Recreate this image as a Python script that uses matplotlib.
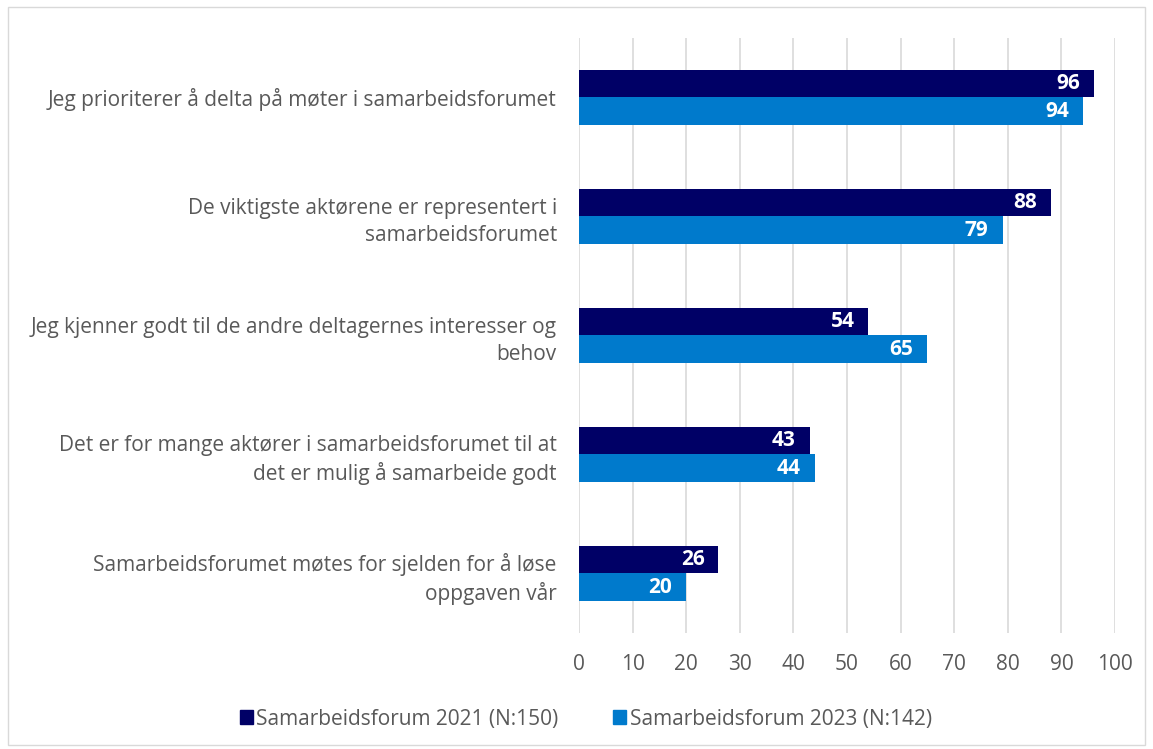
import matplotlib
matplotlib.use("Agg")
import matplotlib.pyplot as plt
from matplotlib.patches import Rectangle, Patch

categories = [
    "Jeg prioriterer å delta på møter i samarbeidsforumet",
    "De viktigste aktørene er representert i\nsamarbeidsforumet",
    "Jeg kjenner godt til de andre deltagernes interesser og\nbehov",
    "Det er for mange aktører i samarbeidsforumet til at\ndet er mulig å samarbeide godt",
    "Samarbeidsforumet møtes for sjelden for å løse\noppgaven vår",
]
vals_2021 = [96, 88, 54, 43, 26]
vals_2023 = [94, 79, 65, 44, 20]
series_names = ["Samarbeidsforum 2021 (N:150)", "Samarbeidsforum 2023 (N:142)"]
ticks = list(range(0, 101, 10))

C21, C23 = "#000066", "#007ACC"
TXT = "#595959"
FS = 15
plt.rcParams["font.family"] = ["Open Sans", "DejaVu Sans"]

fig = plt.figure(figsize=(11.53, 7.49), dpi=100)
ax = fig.add_axes([0.5022, 0.1549, 0.4649, 0.7944])

h = 0.235
ys = list(range(len(categories)))
b1 = ax.barh([y - h / 2 for y in ys], vals_2021, height=h, color=C21, zorder=3)
b2 = ax.barh([y + h / 2 for y in ys], vals_2023, height=h, color=C23, zorder=3)
for bars, vals in ((b1, vals_2021), (b2, vals_2023)):
    for bar, v in zip(bars, vals):
        ax.text(v - 2.6, bar.get_y() + bar.get_height() / 2, f"{v}",
                ha="right", va="center", color="white", fontsize=FS,
                fontweight="bold", zorder=4)

ax.set_xlim(0, 100)
ax.set_ylim(4.5, -0.5)
ax.set_xticks(ticks)
ax.xaxis.grid(True, color="#D9D9D9", lw=1.2, zorder=0)
ax.set_yticks(ys)
ax.set_yticklabels(categories, fontsize=FS, color=TXT, linespacing=1.35)
ax.tick_params(axis="y", length=0, pad=16)
ax.tick_params(axis="x", length=0, pad=15, labelsize=FS, labelcolor=TXT)
for s in ax.spines.values():
    s.set_visible(False)

handles = [Patch(color=C21), Patch(color=C23)]
fig.legend(handles, series_names, loc="center", bbox_to_anchor=(0.508, 0.04),
           ncol=2, frameon=False, fontsize=FS, labelcolor=TXT,
           handlelength=0.65, handleheight=0.65, handletextpad=0.15,
           columnspacing=2.6)

fig.patches.append(Rectangle((0.007, 0.005), 0.986, 0.985, transform=fig.transFigure,
                             fill=False, edgecolor="#D9D9D9", lw=1))
fig.savefig("out.png", dpi=100)
